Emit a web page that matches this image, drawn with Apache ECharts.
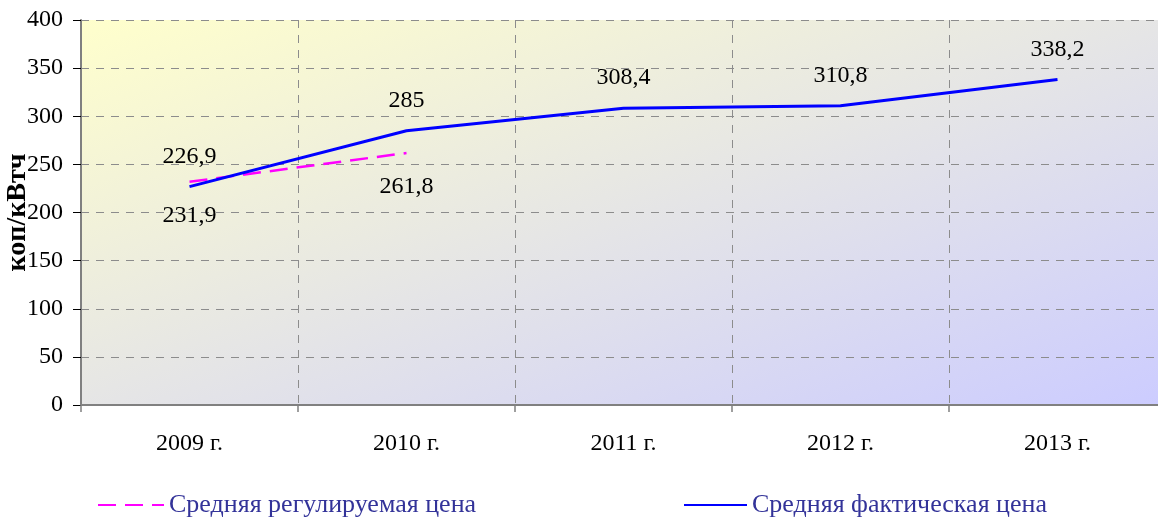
<!DOCTYPE html>
<html><head><meta charset="utf-8">
<script src="https://cdn.jsdelivr.net/npm/echarts@6/dist/echarts.min.js"></script>
<style>html,body{margin:0;padding:0;background:#fff}#c{width:1158px;height:517px}</style>
</head><body><div id="c"></div>
<script>
const categories = ['2009 г.', '2010 г.', '2011 г.', '2012 г.', '2013 г.'];
const regulated = [231.9, 261.8, null, null, null];
const actual = [226.9, 285, 308.4, 310.8, 338.2];
const seriesNames = ['Средняя регулируемая цена', 'Средняя фактическая цена'];
const yAxisName = 'коп/кВтч';

const font = 'Liberation Serif, Times New Roman, serif';
const fmt = p => String(p.value).replace('.', ',');
const chart = echarts.init(document.getElementById('c'));
chart.setOption({
  animation: false,
  grid: {
    left: 81, top: 20, right: -8, bottom: 112, show: true, borderWidth: 0,
    containLabel: false, outerBoundsMode: 'none',
    backgroundColor: new echarts.graphic.LinearGradient(0, 0, 0.2237, 1.776, [
      { offset: 0, color: '#FFFFCC' }, { offset: 1, color: '#CCCCFF' }
    ])
  },
  legend: [
    { data: [seriesNames[0]], left: 92, top: 487, itemWidth: 66, itemHeight: 14, itemGap: 2,
      itemStyle: { opacity: 0 },
      textStyle: { fontFamily: font, fontSize: 26, color: '#333399' } },
    { data: [seriesNames[1]], left: 678, top: 487, itemWidth: 63, itemHeight: 14, itemGap: 4,
      itemStyle: { opacity: 0 },
      textStyle: { fontFamily: font, fontSize: 26, color: '#333399' } }
  ],
  xAxis: {
    type: 'category', data: categories, boundaryGap: true,
    axisLine: { lineStyle: { color: '#808080', width: 2 } },
    axisTick: { show: true, length: 7, lineStyle: { color: '#808080', width: 1.5 } },
    axisLabel: { fontFamily: font, fontSize: 24, color: '#000', margin: 27 },
    splitLine: { show: true, lineStyle: { color: '#8c8c8c', type: [8, 7], width: 1 } }
  },
  yAxis: {
    type: 'value', min: 0, max: 400, interval: 50,
    name: yAxisName, nameLocation: 'middle', nameGap: 49, nameRotate: 90, nameMoveOverlap: false,
    nameTextStyle: { fontFamily: font, fontSize: 28, fontWeight: 'bold', color: '#000' },
    axisLine: { show: true, lineStyle: { color: '#808080', width: 2 } },
    axisTick: { show: true, length: 8, lineStyle: { color: '#000', width: 1 } },
    axisLabel: { fontFamily: font, fontSize: 24, color: '#000', margin: 18 },
    splitLine: { show: true, lineStyle: { color: '#8c8c8c', type: [8, 7], width: 1 } }
  },
  series: [
    { name: seriesNames[0], type: 'line', data: regulated, symbol: 'circle', symbolSize: 0, connectNulls: false,
      lineStyle: { color: '#FF00FF', width: 2.5, type: [18, 9] }, itemStyle: { color: '#FF00FF' },
      label: { show: true, position: 'bottom', distance: 22, formatter: fmt, fontFamily: font, fontSize: 24, color: '#000' },
      z: 3 },
    { name: seriesNames[1], type: 'line', data: actual, symbol: 'circle', symbolSize: 0,
      lineStyle: { color: '#0000FF', width: 3 }, itemStyle: { color: '#0000FF' },
      label: { show: true, position: 'top', distance: 18, formatter: fmt, fontFamily: font, fontSize: 24, color: '#000' },
      z: 4 }
  ]
});
</script></body></html>
